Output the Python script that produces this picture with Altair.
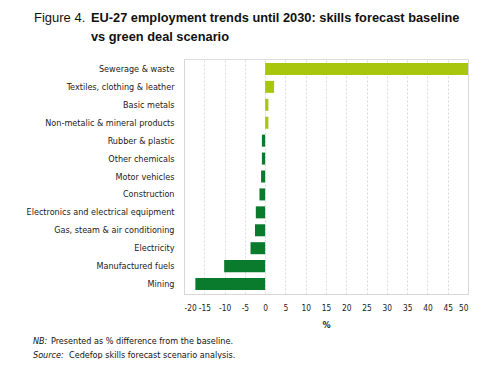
import altair as alt
import pandas as pd

sectors = [
    "Sewerage & waste",
    "Textiles, clothing & leather",
    "Basic metals",
    "Non-metalic & mineral products",
    "Rubber & plastic",
    "Other chemicals",
    "Motor vehicles",
    "Construction",
    "Electronics and electrical equipment",
    "Gas, steam & air conditioning",
    "Electricity",
    "Manufactured fuels",
    "Mining",
]
values = [50.0, 2.2, 0.8, 0.8, -0.8, -0.8, -1.0, -1.4, -2.3, -2.5, -3.6, -10.1, -17.2]
x_ticks = list(range(-20, 55, 5))

LIGHT = "#a9c60e"
DARK = "#0a7a2c"
NARROW = "DejaVu Sans Condensed"

df = pd.DataFrame({"sector": sectors, "value": values})
df["sign"] = ["pos" if v > 0 else "neg" for v in values]

bars = alt.Chart(df).mark_bar().encode(
    y=alt.Y(
        "sector:N",
        sort=sectors,
        title=None,
        scale=alt.Scale(paddingInner=0.33, paddingOuter=0.22),
        axis=alt.Axis(
            ticks=False,
            labelFont=NARROW,
            labelFontSize=9,
            labelColor="#222222",
            labelPadding=10,
            labelLimit=300,
            domainColor="#d8d8d8",
            grid=False,
        ),
    ),
    x=alt.X(
        "value:Q",
        title="%",
        scale=alt.Scale(domain=[-20, 50], nice=False, zero=False),
        axis=alt.Axis(
            values=x_ticks,
            labelExpr="toString(datum.value)",
            labelOverlap=False,
            ticks=False,
            labelFont=NARROW,
            labelFontSize=8.3,
            labelColor="#222222",
            labelPadding=9,
            titleFont=NARROW,
            titleFontSize=9,
            titleFontWeight="bold",
            titleColor="#222222",
            titlePadding=9,
            domainColor="#d8d8d8",
            gridColor="#d0d0d0",
            gridDash=[2, 2],
            gridWidth=0.8,
        ),
    ),
    color=alt.Color(
        "sign:N",
        scale=alt.Scale(domain=["pos", "neg"], range=[LIGHT, DARK]),
        legend=None,
    ),
)

one = pd.DataFrame({"a": [0]})


def label(text, x, y, size=9, weight="normal", style="normal", font=NARROW):
    return alt.Chart(one).mark_text(
        text=text,
        align="left",
        baseline="middle",
        font=font,
        fontSize=size,
        fontWeight=weight,
        fontStyle=style,
        color="#111111",
    ).encode(x=alt.value(x), y=alt.value(y))


texts = [
    label("Figure 4.", -150, -41, size=13, font="Liberation Sans"),
    label("EU-27 employment trends until 2030: skills forecast baseline", -93, -41,
          size=12.8, weight="bold", font="Liberation Sans"),
    label("vs green deal scenario", -93, -22, size=12.8, weight="bold", font="Liberation Sans"),
    label("NB:", -151, 282, style="italic"),
    label("Presented as % difference from the baseline.", -133, 282),
    label("Source:", -151, 296, style="italic"),
    label("Cedefop skills forecast scenario analysis.", -115, 296),
]

chart = alt.layer(bars, *texts).properties(
    width=284,
    height=235,
    autosize="none",
    padding={"left": 176, "top": 51, "right": 10, "bottom": 65},
).configure_view(stroke=None).configure(background="white")

chart.save("out.html", embed_options={"renderer": "svg", "actions": False})
